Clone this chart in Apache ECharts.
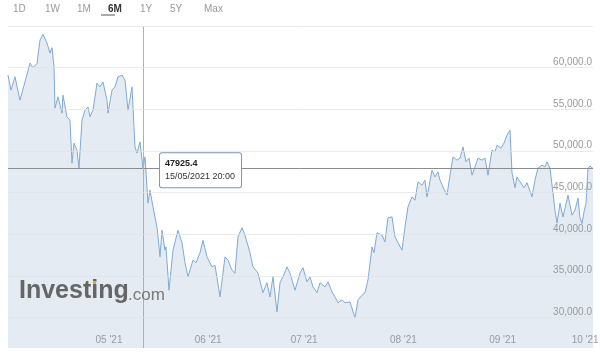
<!DOCTYPE html>
<html>
<head>
<meta charset="utf-8">
<script src="https://cdn.jsdelivr.net/npm/echarts@6/dist/echarts.min.js"></script>
<style>html,body{margin:0;padding:0;background:#fff}#c{width:600px;height:357px}</style>
</head>
<body>
<div id="c"></div>
<script>
// Days since 2021-04-04 00:00 (UTC)
const dayOffsets = [-0.35,0.58,1.83,3.40,4.96,6.52,7.46,8.71,9.65,10.58,11.83,12.77,13.40,14.02,14.33,15.27,16.52,16.83,18.08,19.02,19.65,20.27,21.21,21.83,22.77,23.71,24.65,25.27,26.21,27.46,28.40,29.33,30.58,30.90,32.15,33.08,34.02,35.27,36.21,37.15,38.40,39.33,39.96,40.90,41.833,42.46,43.40,44.02,44.96,46.21,47.15,47.77,48.71,49.02,49.96,51.21,52.77,54.02,54.96,55.90,57.46,58.40,59.65,60.58,61.83,63.40,64.33,65.90,67.46,68.40,69.65,70.58,71.52,72.77,73.71,75.27,76.21,77.77,79.33,80.58,81.52,82.46,83.71,84.65,85.58,86.83,87.77,89.33,90.90,91.83,93.08,94.02,94.96,96.21,97.15,98.71,99.65,100.90,101.83,102.77,104.02,104.96,106.52,108.08,109.02,110.27,111.21,112.15,113.40,114.02,114.96,116.52,117.46,118.40,119.65,120.58,121.52,122.77,123.71,124.65,125.90,126.83,127.77,129.02,129.96,130.58,132.15,133.08,134.02,134.65,135.58,136.83,137.77,138.71,139.96,140.90,141.83,142.77,143.71,144.65,145.58,146.52,147.77,148.71,149.65,150.90,151.83,152.46,153.71,154.65,155.58,156.52,157.15,158.08,158.71,159.65,160.90,161.83,163.40,164.33,165.27,166.52,167.46,168.08,169.02,169.96,170.58,171.21,172.15,173.08,174.65,175.90,176.83,177.77,178.40,179.02,179.65,180.27,180.90,181.52,182.46];
const prices = [59100,57300,58900,56100,58300,60550,60000,60500,63300,64000,62950,61750,62400,60100,55150,56500,54550,56700,54100,53700,48550,50950,50100,47950,53700,54900,55300,54100,54900,58150,57700,58300,56100,54550,57300,57700,58900,59100,58500,54900,57700,50500,49750,51100,47925.4,49300,43750,45300,43300,40900,37300,40500,38100,38500,33300,38100,40500,39000,36600,34900,36900,36600,37800,39300,37300,36100,36300,32500,37300,36900,35700,35350,39700,40800,39900,37800,36100,35350,33000,34200,32500,34900,30700,34200,34900,36100,35350,33300,35350,36000,34300,34900,33700,33000,34200,33700,34300,33100,32500,31800,32150,31800,31900,30000,32150,32700,33000,34550,38500,37800,40200,39900,39100,42000,42100,39700,39000,38100,40900,43300,44500,44100,46300,45900,46500,44500,47700,46900,47500,46500,45700,44700,47100,49300,48900,49150,50500,48700,49150,47100,48100,49150,48900,49150,47100,50100,49900,50700,50350,50950,51900,52500,47400,45600,46900,46300,45600,46200,44500,46500,47950,48300,48100,48700,47950,44950,42900,41350,43750,42100,44700,42300,42900,44350,42000,41300,42700,43700,47950,48200,47900];
const monthTicks = [[2021,4],[2021,5],[2021,6],[2021,7],[2021,8],[2021,9]]; // year, zero-based month
const yTicks = [30000,35000,40000,45000,50000,55000,60000];
const rangeButtons = ['1D','1W','1M','6M','1Y','5Y','Max'];
const activeButton = '6M';
const crossTime = Date.UTC(2021,4,15,20,0);
const crossValue = 47925.4;

const base = Date.UTC(2021,3,4);
const series = dayOffsets.map((d,i)=>[base + d*86400000, prices[i]]);
const monthTickTimes = monthTicks.map(m=>Date.UTC(m[0],m[1],1));
const xMin = series[0][0], xMax = series[series.length-1][0];

function pad(n){return (n<10?'0':'')+n;}
const cd = new Date(crossTime);
const crossDateText = pad(cd.getUTCDate())+'/'+pad(cd.getUTCMonth()+1)+'/'+cd.getUTCFullYear()+' '+pad(cd.getUTCHours())+':'+pad(cd.getUTCMinutes());
function monthLabel(v){const d=new Date(v); return pad(d.getUTCMonth()+1)+" '"+String(d.getUTCFullYear()).slice(2);}

const btnX = [13,45,77,108,140,170,204];
const graphics = rangeButtons.map((b,i)=>({
  type:'text', left: btnX[i], top: 4, z: 10,
  style:{text:b, fill: b===activeButton?'#333':'#9a9a9a', font:(b===activeButton?'bold ':'')+'10px "Liberation Sans", Arial, sans-serif', textAlign:'center'}
}));
graphics.push({type:'rect', left:101, top:14.5, z:10, shape:{width:14,height:1}, style:{fill:'#555'}});
graphics.push({type:'rect', left:0, top:348, z:100, shape:{width:600,height:9}, style:{fill:'#fff'}});
graphics.push({type:'text', left:19, top:279, z:10, style:{text:'Investing', fill:'#666', font:'bold 25px "Liberation Sans", Arial, sans-serif'}});
graphics.push({type:'text', left:128, top:287, z:10, style:{text:'.com', fill:'#7a7a7a', font:'17px "Liberation Sans", Arial, sans-serif'}});
graphics.push({type:'rect', left:93, top:281, z:11, shape:{width:3,height:3}, style:{fill:'#f0a040'}});

const chart = echarts.init(document.getElementById('c'), null, {renderer:'canvas'});
chart.setOption({
  animation:false,
  backgroundColor:'#fff',
  grid:{left:8, right:7, top:26, bottom:-2.4, containLabel:false, outerBoundsMode:'none'},
  xAxis:{
    type:'value', min:xMin, max:xMax, z:10,
    axisLine:{show:false}, splitLine:{show:false},
    axisTick:{show:false, customValues: monthTickTimes},
    axisLabel:{
      show:true, inside:true, margin:14, color:'#9a9a9a', fontSize:10, fontFamily:'"Liberation Sans", Arial, sans-serif',
      align:'left', alignMaxLabel:'center', showMinLabel:true, showMaxLabel:true,
      customValues: monthTickTimes,
      formatter: monthLabel
    }
  },
  yAxis:{
    type:'value', position:'right', min:25000, max:65000, interval:5000, z:10,
    axisLine:{show:false}, axisTick:{show:false},
    splitLine:{lineStyle:{color:'#e3e3e3', width:1, opacity:0.7}},
    axisLabel:{
      inside:true, margin:1, color:'#9a9a9a', fontSize:10, fontFamily:'"Liberation Sans", Arial, sans-serif',
      verticalAlign:'bottom', lineHeight:11,
      formatter:function(v){ return yTicks.indexOf(v)>=0 ? v.toLocaleString('en-US',{minimumFractionDigits:1, maximumFractionDigits:1}) : ''; }
    }
  },
  graphic: graphics,
  series:[{
    type:'line', data:series, symbol:'none', smooth:false, z:2,
    lineStyle:{color:'#7eaad6', width:1},
    areaStyle:{color:'#e4ebf3', opacity:1},
    markLine:{
      silent:true, symbol:['none','none'], label:{show:false},
      data:[
        {yAxis:crossValue, lineStyle:{color:'#8c8c8c', width:1, type:'solid'}},
        {xAxis:crossTime, lineStyle:{color:'#b0b0b0', width:1, type:'solid'}}
      ]
    },
    markPoint:{
      silent:true, symbol:'rect', symbolSize:0, z:20,
      data:[{coord:[crossTime, crossValue]}],
      label:{
        show:true, position:[17,-15],
        formatter: '{a|'+crossValue.toFixed(1)+'}\n{b|'+crossDateText+'}',
        backgroundColor:'#fff', borderColor:'#7897ba', borderWidth:1, borderRadius:2,
        padding:[4,6,4,5],
        rich:{
          a:{fontSize:9, fontWeight:'bold', color:'#222', lineHeight:13, fontFamily:'"Liberation Sans", Arial, sans-serif'},
          b:{fontSize:9, color:'#333', lineHeight:13, fontFamily:'"Liberation Sans", Arial, sans-serif'}
        }
      }
    }
  }]
});
</script>
</body>
</html>
